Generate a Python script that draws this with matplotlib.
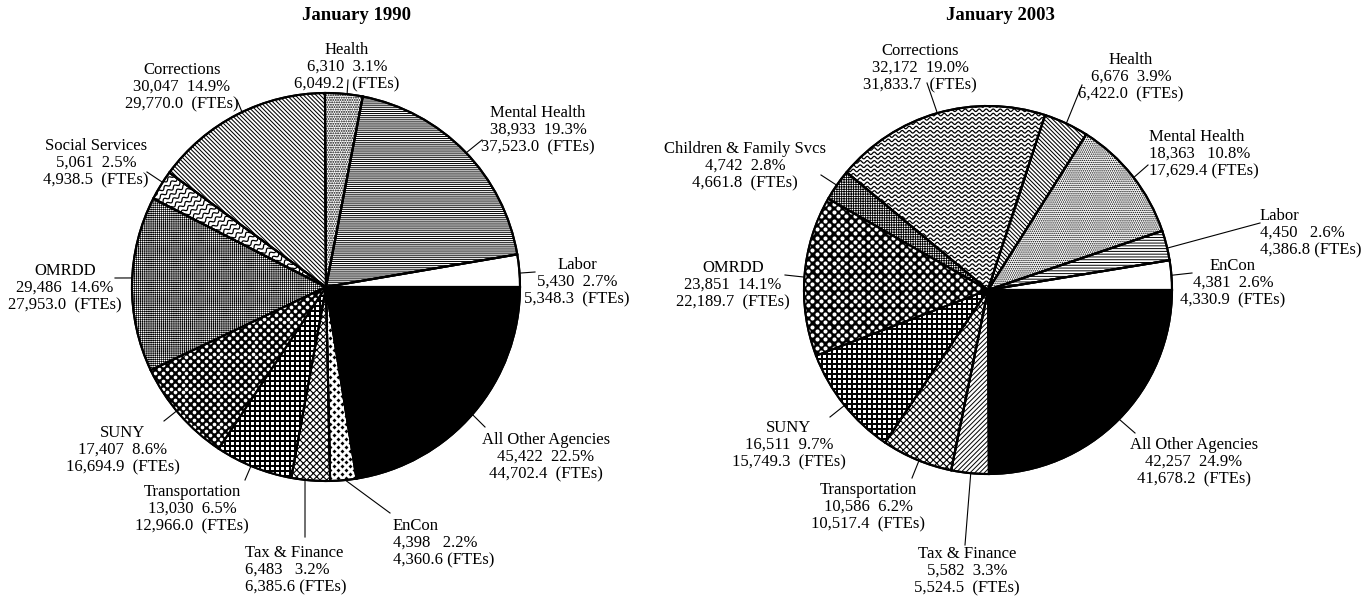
import numpy as np
import matplotlib.pyplot as plt
from matplotlib.patches import Wedge
from matplotlib.collections import LineCollection

plt.rcParams['font.family'] = ['Liberation Serif', 'DejaVu Serif']
plt.rcParams['hatch.linewidth'] = 0.75
plt.rcParams['hatch.color'] = 'black'

# January 1990 (clockwise from 3 o'clock)
names_1990 = ['All Other Agencies', 'EnCon', 'Tax & Finance', 'Transportation', 'SUNY',
              'OMRDD', 'Social Services', 'Corrections', 'Health', 'Mental Health', 'Labor']
counts_1990 = [45422, 4398, 6483, 13030, 17407, 29486, 5061, 30047, 6310, 38933, 5430]
pcts_1990 = [22.5, 2.2, 3.2, 6.5, 8.6, 14.6, 2.5, 14.9, 3.1, 19.3, 2.7]
ftes_1990 = [44702.4, 4360.6, 6385.6, 12966.0, 16694.9, 27953.0, 4938.5, 29770.0, 6049.2, 37523.0, 5348.3]

# January 2003
names_2003 = ['All Other Agencies', 'Tax & Finance', 'Transportation', 'SUNY', 'OMRDD',
              'Children & Family Svcs', 'Corrections', 'Health', 'Mental Health', 'Labor', 'EnCon']
counts_2003 = [42257, 5582, 10586, 16511, 23851, 4742, 32172, 6676, 18363, 4450, 4381]
pcts_2003 = [24.9, 3.3, 6.2, 9.7, 14.1, 2.8, 19.0, 3.9, 10.8, 2.6, 2.6]
ftes_2003 = [41678.2, 5524.5, 10517.4, 15749.3, 22189.7, 4661.8, 31833.7, 6422.0, 17629.4, 4386.8, 4330.9]

# fill styles: 'solid', 'white', 'wave', ('hatch', pattern, lw)
# or ('marks', face, mark colour, marker, pitch px, size px, staggered)
fills_1990 = ['solid', ('marks', 'white', 'black', 'D', 5.5, 2.8, True), ('hatch', 'xxxxx', 0.8),
              ('marks', 'black', 'white', 's', 5.0, 3.0, False),
              ('marks', 'black', 'white', 'o', 5.5, 3.7, True),
              ('hatch', '+' * 8, 0.45), 'wave', ('hatch', '\\' * 8, 0.75), ('hatch', '.' * 7, 0.9),
              ('hatch', '-' * 8, 0.7), 'white']
fills_2003 = ['solid', ('hatch', '/' * 7, 0.7), ('hatch', 'xxxxx', 0.8),
              ('marks', 'black', 'white', 's', 5.0, 3.0, False),
              ('marks', 'black', 'white', 'o', 6.0, 4.1, True),
              ('hatch', '+' * 7, 0.6), 'wave', ('hatch', '\\' * 8, 0.75), ('hatch', '.' * 8, 0.7),
              ('hatch', '-' * 6, 0.7), 'white']

# layout in pixel coordinates (y downwards)
W, H = 1364, 602
fig = plt.figure(figsize=(W / 100, H / 100), dpi=100)
ax = fig.add_axes([0, 0, 1, 1])


def draw_waves(ax, wedge, spacing, wavelength, amp, angle):
    cx, cy = wedge.center
    r = wedge.r
    t = np.radians(angle)
    u = np.array([np.cos(t), np.sin(t)])
    v = np.array([-np.sin(t), np.cos(t)])
    s = np.linspace(-r, r, int(2 * r / 0.6))
    segs = []
    for off in np.arange(-r, r, spacing):
        d = off + amp * np.sin(2 * np.pi * s / wavelength)
        pts = np.column_stack([cx + s * u[0] + d * v[0], cy + s * u[1] + d * v[1]])
        segs.append(pts)
    lc = LineCollection(segs, colors='black', linewidths=0.9)
    ax.add_collection(lc)
    lc.set_clip_path(wedge)


def draw_marks(ax, wedge, color, marker, pitch, size, staggered):
    cx, cy = wedge.center
    r = wedge.r
    if staggered:
        w, h = pitch * np.sqrt(2), pitch / np.sqrt(2)
    else:
        w, h = pitch, pitch
    xs, ys = [], []
    for k, yy in enumerate(np.arange(cy - r, cy + r + h, h)):
        off = w / 2 if (staggered and k % 2) else 0.0
        row = np.arange(cx - r - w, cx + r + w, w) + off
        xs.append(row)
        ys.append(np.full_like(row, yy))
    xs, ys = np.concatenate(xs), np.concatenate(ys)
    a = np.degrees(np.arctan2(ys - cy, xs - cx)) % 360
    t1, t2 = wedge.theta1 % 360, wedge.theta2 % 360
    inside = ((a >= t1 - 3) & (a <= t2 + 3)) if t1 <= t2 else ((a >= t1 - 3) | (a <= t2 + 3))
    inside &= np.hypot(xs - cx, ys - cy) <= r + pitch
    sc = ax.scatter(xs[inside], ys[inside], s=(size * 0.72) ** 2, marker=marker,
                    c=color, linewidths=0, zorder=wedge.get_zorder())
    sc.set_clip_path(wedge)


def draw_pie(ax, counts, fills, names, pcts, ftes, center, radius, label_pos, leaders, wave):
    wedges, _ = ax.pie(counts, startangle=0, counterclock=True, center=center, radius=radius,
                       wedgeprops=dict(edgecolor='black', linewidth=1.5))
    for w, f in zip(wedges, fills):
        if f == 'solid':
            w.set_facecolor('black')
        elif f in ('white', 'wave'):
            w.set_facecolor('white')
            if f == 'wave':
                draw_waves(ax, w, *wave)
        elif f[0] == 'hatch':
            w.set_facecolor('white')
            w.set_hatch(f[1])
            if hasattr(w, 'set_hatch_linewidth'):
                w.set_hatch_linewidth(f[2])
        else:
            w.set_facecolor(f[1])
            draw_marks(ax, w, *f[2:])
    # outlines again on top of the custom textures
    for w in wedges:
        ax.add_patch(Wedge(w.center, w.r, w.theta1, w.theta2, facecolor='none',
                           edgecolor='black', linewidth=1.5, zorder=3))
    cx, cy = center
    for name, c, p, fte, (tx, ty, ha), (outer, inner) in zip(names, counts, pcts, ftes, label_pos, leaders):
        if ha == 'left':
            txt = f"{name}\n{c:,}   {p:.1f}%\n{fte:,.1f} (FTEs)"
        else:
            txt = f"{name}\n{c:,}  {p:.1f}%\n{fte:,.1f}  (FTEs)"
        ax.text(tx, ty, txt, ha=ha, va='center', multialignment=ha, fontsize=12,
                linespacing=1.08, color='black')
        a = np.arctan2(inner[1] - cy, inner[0] - cx)
        rim = (cx + radius * np.cos(a), cy + radius * np.sin(a))
        ax.plot([outer[0], rim[0]], [outer[1], rim[1]], color='black', lw=0.8)


pos_1990 = [(546, 457, 'center'), (393, 543, 'left'), (245, 570, 'left'), (192, 509, 'center'),
            (123, 450, 'center'), (65, 288, 'center'), (96, 163, 'center'), (182, 87, 'center'),
            (347, 67, 'center'), (538, 130, 'center'), (577, 282, 'center')]
lead_1990 = [((485, 427), (473, 415)), ((390, 513), (345, 478)), ((305, 537), (305, 480)),
             ((245, 480), (251, 466)), ((164, 421), (179, 409)), ((115, 278), (133, 278)),
             ((147, 172), (162, 182)), ((237, 100), (242, 112)), ((348, 80), (347, 95)),
             ((482, 140), (467, 152)), ((535, 272), (521, 273))]

pos_2003 = [(1194, 462, 'center'), (967, 571, 'center'), (868, 507, 'center'), (789, 445, 'center'),
            (733, 285, 'center'), (745, 166, 'center'), (920, 68, 'center'), (1131, 77, 'center'),
            (1149, 154, 'left'), (1260, 233, 'left'), (1233, 283, 'center')]
lead_2003 = [((1135, 433), (1122, 422)), ((965, 545), (972, 460)), ((912, 478), (918, 463)),
             ((830, 417), (845, 405)), ((785, 275), (803, 277)), ((821, 175), (835, 184)),
             ((927, 83), (937, 112)), ((1082, 85), (1067, 122)), ((1148, 165), (1137, 175)),
             ((1260, 223), (1172, 247)), ((1192, 273), (1175, 275))]

draw_pie(ax, counts_1990, fills_1990, names_1990, pcts_1990, ftes_1990, (326, 287), 194,
         pos_1990, lead_1990, (5.0, 8.0, 1.4, -35))
draw_pie(ax, counts_2003, fills_2003, names_2003, pcts_2003, ftes_2003, (988, 290), 184,
         pos_2003, lead_2003, (4.3, 7.0, 1.3, 0))

ax.text(357, 15, 'January 1990', ha='center', va='center', fontsize=13.5, fontweight='bold')
ax.text(1000, 15, 'January 2003', ha='center', va='center', fontsize=13.5, fontweight='bold')

ax.set_aspect('equal')
ax.set_xlim(0, W)
ax.set_ylim(H, 0)
ax.axis('off')

fig.savefig('out.png', dpi=100, facecolor='white')
